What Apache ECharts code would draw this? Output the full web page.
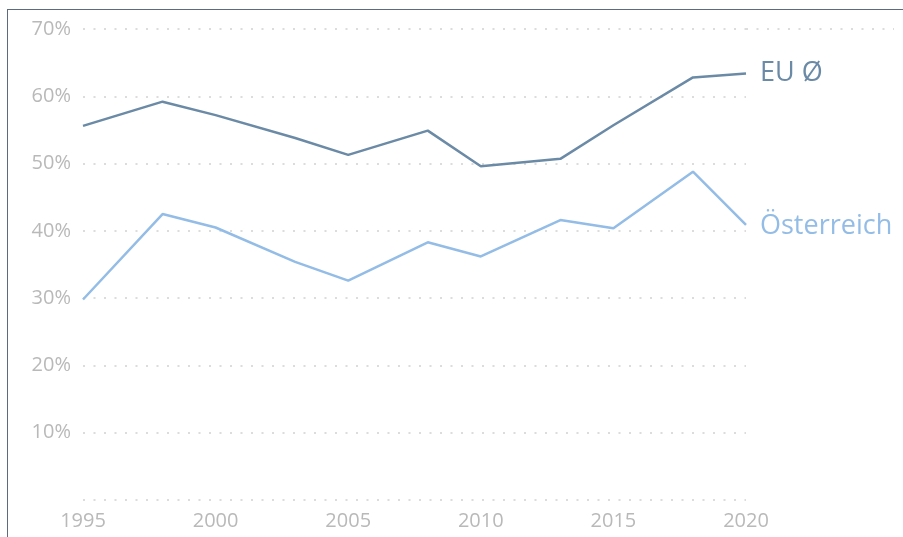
<!DOCTYPE html>
<html>
<head>
<meta charset="utf-8">
<script src="https://cdn.jsdelivr.net/npm/echarts@6/dist/echarts.min.js"></script>
<style>
  html, body { margin: 0; padding: 0; background: #fff; }
  #frame {
    position: absolute; left: 7px; top: 9px; width: 896px; height: 528px;
    border-left: 1px solid #5d6b7f; border-top: 1px solid #5d6b7f;
  }
  #chart { width: 896px; height: 528px; }
</style>
</head>
<body>
<div id="frame"><div id="chart"></div></div>
<script>
  // years and shares (in %)
  var years = [1995, 1998, 2000, 2003, 2005, 2008, 2010, 2013, 2015, 2018, 2020]
  var euAvg = [55.6, 59.2, 57.2, 53.8, 51.3, 54.9, 49.6, 50.7, 55.7, 62.8, 63.4]
  var austria = [29.8, 42.5, 40.5, 35.4, 32.6, 38.3, 36.2, 41.6, 40.4, 48.8, 40.9]
  var seriesNames = ['EU Ø', 'Österreich']
  var xTicks = [1995, 2000, 2005, 2010, 2015, 2020]

  var darkBlue = '#6b8aa6'
  var lightBlue = '#93bce6'
  var font = '"Open Sans", "Noto Sans", sans-serif'

  function pairs(vals) {
    return years.map(function (y, i) { return [y, vals[i]] })
  }

  var chart = echarts.init(document.getElementById('chart'))
  chart.setOption({
    animation: false,
    grid: { left: 75, right: 158, top: 19, bottom: 38 },
    xAxis: {
      type: 'value',
      min: 1995,
      max: 2020,
      interval: 5,
      axisLine: { show: false },
      axisTick: { show: false },
      splitLine: { show: false },
      axisLabel: {
        color: '#b9b9b9', fontSize: 20, fontFamily: font, margin: 11,
        formatter: function (v) { return xTicks.indexOf(v) >= 0 ? String(v) : '' }
      }
    },
    yAxis: {
      type: 'value',
      min: 0,
      max: 70,
      interval: 10,
      axisLine: { show: false },
      axisTick: { show: false },
      axisLabel: {
        color: '#b9b9b9', fontSize: 20, fontFamily: font, margin: 12,
        formatter: function (v) { return v === 0 ? '' : v + '%' }
      },
      splitLine: {
        lineStyle: { color: '#dcdcdc', width: 2, type: [2, 8.5] }
      }
    },
    graphic: [{
      // top gridline runs further to the right than the others
      type: 'line',
      shape: { x1: 738, y1: 19, x2: 886, y2: 19 },
      style: { stroke: '#dcdcdc', lineWidth: 2, lineDash: [2, 8.5] }
    }],
    series: [
      {
        name: seriesNames[0],
        type: 'line',
        data: pairs(euAvg),
        symbol: 'none',
        lineStyle: { color: darkBlue, width: 2.5 },
        endLabel: {
          show: true, formatter: seriesNames[0], color: darkBlue,
          fontSize: 27, fontFamily: font, distance: 14
        }
      },
      {
        name: seriesNames[1],
        type: 'line',
        data: pairs(austria),
        symbol: 'none',
        lineStyle: { color: lightBlue, width: 2.5 },
        endLabel: {
          show: true, formatter: seriesNames[1], color: lightBlue,
          fontSize: 27, fontFamily: font, distance: 14, offset: [0, 2]
        }
      }
    ]
  })
</script>
</body>
</html>
